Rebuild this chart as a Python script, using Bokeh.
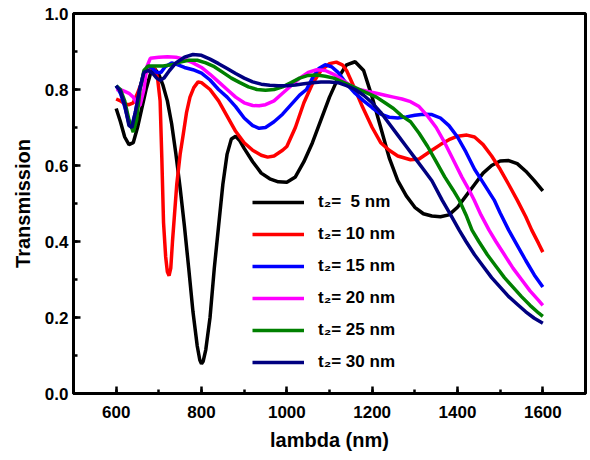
from bokeh.plotting import figure
from bokeh.models import Legend, LegendItem, SingleIntervalTicker, Range1d, PrintfTickFormatter
from bokeh.embed import file_html
from bokeh.resources import INLINE

# ---- data ----
x_5 = [600, 610, 620, 630, 640, 650, 660, 670, 680, 690, 700, 710, 720, 730, 740, 750, 760, 770, 780, 790,
       796, 800, 804, 810, 820, 830, 840, 850, 860, 870, 880, 890, 900, 920, 940, 960, 980, 1000, 1020, 1040, 1060,
       1080, 1100, 1120, 1140, 1160, 1180, 1200, 1220, 1240, 1260, 1280, 1300, 1320, 1340, 1360, 1380,
       1400, 1420, 1440, 1460, 1480, 1500, 1520, 1540, 1560, 1580, 1600]
y_5 = [0.750, 0.715, 0.675, 0.655, 0.660, 0.700, 0.750, 0.800, 0.840, 0.855, 0.840, 0.810, 0.770, 0.710,
       0.630, 0.540, 0.440, 0.330, 0.215, 0.125, 0.088, 0.078, 0.085, 0.115, 0.200, 0.330, 0.440, 0.550, 0.630, 0.670,
       0.677, 0.665, 0.645, 0.610, 0.580, 0.565, 0.557, 0.556, 0.570, 0.610, 0.660, 0.720, 0.780, 0.830,
       0.865, 0.873, 0.850, 0.780, 0.700, 0.620, 0.560, 0.520, 0.490, 0.473, 0.467, 0.465, 0.470, 0.490,
       0.520, 0.550, 0.580, 0.600, 0.612, 0.613, 0.605, 0.585, 0.560, 0.533]

x_10 = [600, 610, 620, 630, 640, 650, 660, 670, 680, 690, 697, 703, 707, 711, 716, 720, 724, 728, 732, 736,
        742, 750, 757, 765, 773, 782, 792, 800, 820, 840, 860, 880, 900, 920, 940, 955, 970, 990, 1000,
        1020, 1040, 1060, 1080, 1100, 1116, 1130, 1140, 1160, 1177, 1200, 1220, 1240, 1260, 1290, 1310,
        1340, 1360, 1380, 1400, 1422, 1440, 1460, 1480, 1500, 1520, 1540, 1560, 1574, 1590, 1600]
y_10 = [0.775, 0.770, 0.762, 0.760, 0.765, 0.790, 0.820, 0.845, 0.855, 0.855, 0.830, 0.770, 0.620, 0.450,
        0.360, 0.320, 0.310, 0.330, 0.400, 0.460, 0.550, 0.630, 0.680, 0.740, 0.780, 0.805, 0.820, 0.818,
        0.800, 0.770, 0.730, 0.690, 0.660, 0.640, 0.627, 0.622, 0.625, 0.640, 0.650, 0.700, 0.765, 0.815,
        0.850, 0.868, 0.872, 0.865, 0.850, 0.800, 0.755, 0.700, 0.660, 0.640, 0.625, 0.615, 0.617, 0.640,
        0.655, 0.668, 0.677, 0.680, 0.675, 0.655, 0.625, 0.590, 0.550, 0.509, 0.465, 0.430, 0.395, 0.372]

x_15 = [600, 610, 620, 630, 636, 645, 655, 665, 675, 685, 695, 705, 715, 730, 745, 760, 780, 800, 820, 840,
        860, 880, 900, 920, 935, 950, 970, 990, 1010, 1030, 1046, 1060, 1075, 1090, 1105, 1120, 1140, 1160,
        1180, 1200, 1220, 1240, 1260, 1280, 1300, 1320, 1340, 1360, 1380, 1400, 1420, 1440, 1460, 1486,
        1500, 1520, 1540, 1560, 1580, 1600]
y_15 = [0.810, 0.790, 0.755, 0.710, 0.700, 0.740, 0.800, 0.845, 0.862, 0.855, 0.845, 0.845, 0.860, 0.870,
        0.865, 0.858, 0.852, 0.843, 0.825, 0.800, 0.780, 0.755, 0.725, 0.705, 0.698, 0.700, 0.715, 0.735,
        0.760, 0.785, 0.800, 0.830, 0.855, 0.865, 0.860, 0.845, 0.815, 0.790, 0.770, 0.752, 0.735, 0.727,
        0.725, 0.728, 0.732, 0.735, 0.734, 0.725, 0.705, 0.675, 0.635, 0.590, 0.555, 0.509, 0.475, 0.430,
        0.390, 0.350, 0.312, 0.280]

x_20 = [600, 610, 620, 630, 640, 650, 656, 665, 672, 680, 700, 720, 740, 760, 780, 800, 820, 840, 860, 880,
        900, 920, 935, 950, 970, 990, 1010, 1030, 1050, 1070, 1090, 1110, 1130, 1150, 1170, 1190, 1210,
        1230, 1250, 1270, 1290, 1310, 1330, 1350, 1370, 1390, 1410, 1425, 1439, 1455, 1474, 1490, 1510,
        1530, 1550, 1570, 1590, 1600]
y_20 = [0.800, 0.800, 0.795, 0.790, 0.780, 0.760, 0.758, 0.800, 0.860, 0.882, 0.885, 0.886, 0.885, 0.880,
        0.870, 0.858, 0.840, 0.820, 0.800, 0.780, 0.765, 0.758, 0.757, 0.760, 0.770, 0.790, 0.810, 0.830,
        0.845, 0.852, 0.850, 0.840, 0.825, 0.810, 0.800, 0.795, 0.790, 0.785, 0.780, 0.775, 0.768, 0.755,
        0.730, 0.700, 0.660, 0.615, 0.570, 0.540, 0.509, 0.470, 0.430, 0.400, 0.365, 0.330, 0.300, 0.270,
        0.245, 0.232]

x_25 = [600, 610, 620, 630, 640, 648, 656, 665, 675, 690, 710, 730, 750, 770, 790, 810, 830, 850, 870, 890,
        910, 930, 950, 970, 990, 1010, 1030, 1050, 1070, 1090, 1110, 1130, 1150, 1170, 1190, 1210, 1230,
        1250, 1270, 1290, 1310, 1330, 1350, 1370, 1390, 1404, 1420, 1434, 1450, 1470, 1490, 1510, 1530,
        1550, 1570, 1590, 1600]
y_25 = [0.810, 0.800, 0.770, 0.720, 0.688, 0.720, 0.800, 0.850, 0.862, 0.862, 0.862, 0.865, 0.872, 0.877,
        0.877, 0.870, 0.860, 0.845, 0.830, 0.818, 0.807, 0.800, 0.798, 0.800, 0.807, 0.818, 0.830, 0.837,
        0.838, 0.835, 0.830, 0.820, 0.810, 0.800, 0.790, 0.780, 0.765, 0.750, 0.730, 0.715, 0.685, 0.650,
        0.610, 0.570, 0.535, 0.509, 0.470, 0.430, 0.400, 0.365, 0.335, 0.305, 0.280, 0.255, 0.232, 0.212,
        0.203]

x_30 = [600, 610, 620, 630, 637, 645, 655, 665, 675, 685, 695, 703, 712, 725, 740, 760, 780, 800, 820, 840,
        860, 880, 900, 920, 940, 960, 980, 1000, 1020, 1040, 1060, 1080, 1100, 1120, 1140, 1160, 1180,
        1200, 1220, 1240, 1260, 1280, 1300, 1320, 1340, 1364, 1384, 1404, 1420, 1440, 1460, 1480, 1500,
        1520, 1540, 1560, 1580, 1600]
y_30 = [0.810, 0.795, 0.760, 0.705, 0.700, 0.740, 0.800, 0.845, 0.850, 0.843, 0.830, 0.824, 0.830, 0.850,
        0.870, 0.885, 0.892, 0.890, 0.880, 0.868, 0.855, 0.842, 0.830, 0.820, 0.814, 0.811, 0.810, 0.810,
        0.812, 0.815, 0.818, 0.820, 0.820, 0.818, 0.810, 0.800, 0.785, 0.765, 0.740, 0.710, 0.680, 0.650,
        0.620, 0.590, 0.560, 0.509, 0.470, 0.430, 0.400, 0.365, 0.335, 0.305, 0.280, 0.255, 0.235, 0.215,
        0.198, 0.185]

series = [
    ("t\u2082=  5 nm", x_5, y_5, "#000000"),
    ("t\u2082= 10 nm", x_10, y_10, "#ff0000"),
    ("t\u2082= 15 nm", x_15, y_15, "#0000ff"),
    ("t\u2082= 20 nm", x_20, y_20, "#ff00ff"),
    ("t\u2082= 25 nm", x_25, y_25, "#008000"),
    ("t\u2082= 30 nm", x_30, y_30, "#000080"),
]

FONT = "Liberation Sans"

p = figure(width=588, height=458, output_backend="svg", toolbar_location=None,
           x_range=Range1d(500, 1700), y_range=Range1d(0.0, 1.0),
           min_border_left=73, min_border_right=3, min_border_top=13, min_border_bottom=65)
p.grid.visible = False
p.outline_line_color = "black"
p.outline_line_width = 3
p.background_fill_color = "white"

items = []
for label, xs, ys, col in series:
    r = p.line(xs, ys, line_color=col, line_width=3.5)
    items.append(LegendItem(label=label, renderers=[r]))

for ax in (p.xaxis[0], p.yaxis[0]):
    ax.axis_line_width = 3
    ax.major_tick_in = 7
    ax.major_tick_out = 0
    ax.minor_tick_in = 4
    ax.minor_tick_out = 0
    ax.major_tick_line_width = 2.5
    ax.minor_tick_line_width = 2.5
    ax.major_label_text_font = FONT
    ax.major_label_text_font_style = "bold"
    ax.major_label_text_font_size = "17px"
    ax.major_label_text_color = "black"
    ax.axis_label_text_font = FONT
    ax.axis_label_text_font_style = "bold"
    ax.axis_label_text_font_size = "20px"
    ax.axis_label_text_color = "black"

p.xaxis[0].ticker = SingleIntervalTicker(interval=200, num_minor_ticks=2)
p.yaxis[0].ticker = SingleIntervalTicker(interval=0.2, num_minor_ticks=2)
p.yaxis[0].formatter = PrintfTickFormatter(format="%.1f")
p.xaxis[0].axis_label = "lambda (nm)"
p.yaxis[0].axis_label = "Transmission"
p.xaxis[0].major_label_standoff = 12
p.xaxis[0].axis_label_standoff = 8
p.yaxis[0].major_label_standoff = 5
p.yaxis[0].axis_label_standoff = 8

legend = Legend(items=items, location=(179, 21), orientation="vertical",
                glyph_width=52, glyph_height=20, label_height=20, label_standoff=14,
                spacing=12, padding=0, margin=0,
                border_line_color=None, background_fill_alpha=0,
                label_text_font=FONT, label_text_font_style="bold",
                label_text_font_size="17px", label_text_color="black")
p.add_layout(legend, "center")

open("out.html", "w").write(file_html(p, INLINE))
